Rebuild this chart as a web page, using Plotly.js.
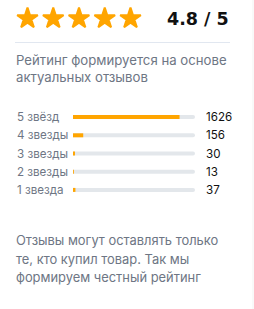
<!DOCTYPE html>
<html><head><meta charset="utf-8">
<script src="https://cdn.plot.ly/plotly-3.0.1.min.js"></script>
<style>html,body{margin:0;padding:0;background:#fff;}#chart{width:254px;height:309px;}</style>
</head><body><div id="chart"></div>
<script>
const ratingLabels = ["5 звёзд", "4 звезды", "3 звезды", "2 звезды", "1 звезда"];
const ratingCounts = [1626, 156, 30, 13, 37];
const starPositions = [1, 2, 3, 4, 5];
const averageText = "4.8 / 5";
const introLines = ["Рейтинг формируется на основе", "актуальных отзывов"];
const footerLines = ["Отзывы могут оставлять только", "те, кто купил товар. Так мы", "формируем честный рейтинг"];

const W = 254, H = 309;
const py = p => 1 - p / H;
const px = p => p / W;
const total = ratingCounts.reduce((a, b) => a + b, 0);
const rows = ratingLabels.map((_, i) => i);
const FONT = "Inter, 'Noto Sans', sans-serif";

const traces = [
  {type: 'bar', orientation: 'h', x: ratingCounts.map(() => total), y: rows,
   marker: {color: '#e3e7eb'}, width: 0.22, hoverinfo: 'skip', xaxis: 'x', yaxis: 'y'},
  {type: 'bar', orientation: 'h', x: ratingCounts, y: rows,
   marker: {color: '#ffa500'}, width: 0.22, hoverinfo: 'skip', xaxis: 'x', yaxis: 'y'},
  {type: 'scatter', mode: 'markers', x: starPositions, y: starPositions.map(() => 0),
   marker: {symbol: 'star', size: 15.5, color: '#ffa500', line: {width: 2, color: '#ffa500'}},
   hoverinfo: 'skip', xaxis: 'x2', yaxis: 'y2'}
];

const annotations = [];
ratingLabels.forEach((lab, i) => {
  annotations.push({xref: 'paper', yref: 'y', x: px(14.5), y: i, xanchor: 'left', yanchor: 'middle',
    text: lab, showarrow: false, font: {family: FONT, size: 11.6, color: '#6e7684'}});
  annotations.push({xref: 'paper', yref: 'y', x: px(204), y: i, xanchor: 'left', yanchor: 'middle',
    text: String(ratingCounts[i]), showarrow: false, font: {family: FONT, size: 11.6, color: '#111'}});
});
introLines.forEach((t, i) => annotations.push({xref: 'paper', yref: 'paper', x: px(14), y: py(59.5 + i * 18),
  xanchor: 'left', yanchor: 'middle', text: t, showarrow: false, font: {family: FONT, size: 13.2, color: '#6e7684'}}));
footerLines.forEach((t, i) => annotations.push({xref: 'paper', yref: 'paper', x: px(14), y: py(241 + i * 18.3),
  xanchor: 'left', yanchor: 'middle', text: t, showarrow: false, font: {family: FONT, size: 12.9, color: '#6e7684'}}));
annotations.push({xref: 'paper', yref: 'paper', x: px(165), y: py(19), xanchor: 'left', yanchor: 'middle',
  text: '<b>' + averageText + '</b>', showarrow: false, font: {family: "'DejaVu Sans', sans-serif", size: 17.5, color: '#111'}});

const layout = {
  width: W, height: H, autosize: false,
  margin: {l: 0, r: 0, t: 0, b: 0},
  paper_bgcolor: '#fff', plot_bgcolor: 'rgba(0,0,0,0)',
  showlegend: false, barmode: 'overlay', barcornerradius: 2,
  xaxis: {domain: [px(73), px(195)], range: [0, total], visible: false, fixedrange: true},
  yaxis: {domain: [py(199), py(108)], range: [4.5, -0.5], visible: false, fixedrange: true},
  xaxis2: {domain: [0, 1], range: [-0.068, 9.796], visible: false, anchor: 'y2'},
  yaxis2: {domain: [py(37), py(0)], range: [-1.0, 1.0], visible: false, anchor: 'x2'},
  shapes: [
    {type: 'line', xref: 'paper', yref: 'paper', x0: px(15), x1: px(230), y0: py(42.5), y1: py(42.5),
     line: {color: '#e1e7f0', width: 1}},
    {type: 'line', xref: 'paper', yref: 'paper', x0: px(253), x1: px(253), y0: 0, y1: 1,
     line: {color: '#f3f3f3', width: 1}}
  ],
  annotations: annotations
};
Plotly.newPlot('chart', traces, layout, {staticPlot: true, displayModeBar: false});
</script></body></html>
